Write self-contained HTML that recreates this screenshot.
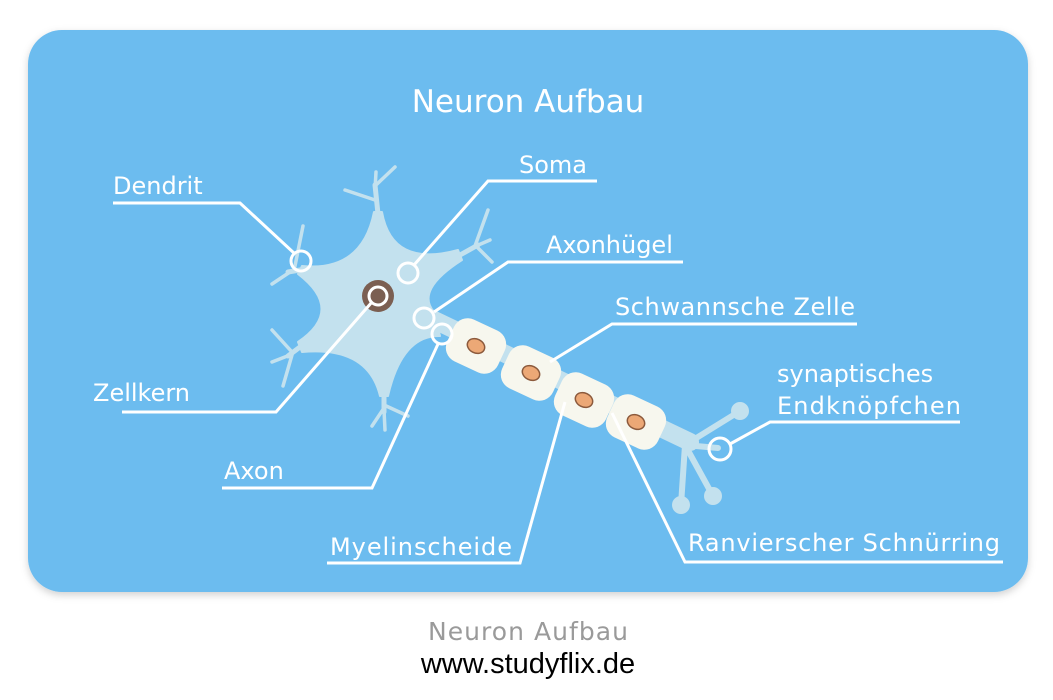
<!DOCTYPE html>
<html><head><meta charset="utf-8"><style>
html,body{margin:0;padding:0;background:#fff;width:1053px;height:700px;overflow:hidden}
svg{display:block}
text{font-family:"DejaVu Sans","Liberation Sans",sans-serif}
</style></head><body>
<svg width="1053" height="700" viewBox="0 0 1053 700">
<defs><filter id="sh" x="-5%" y="-5%" width="110%" height="115%"><feDropShadow dx="0" dy="3" stdDeviation="4" flood-color="#000" flood-opacity="0.18"/></filter></defs>
<rect x="28" y="30" width="1000" height="562" rx="34" fill="#6cbcef" filter="url(#sh)"/>
<text x="528" y="112" font-size="31" fill="#fff" text-anchor="middle">Neuron Aufbau</text>

<!-- neuron soma -->
<g fill="#c3e1ee" stroke="#c3e1ee" stroke-linecap="round" stroke-linejoin="round">
<path d="M374,212 L382,212 Q392,268 458,250 L462,260 Q415,290 434,312 L440,336 Q402,335 388,396 L380,396 Q368,346 302,352 L298,342 Q345,310 298,274 L302,266 Q362,272 374,212 Z" stroke-width="2"/>
<g fill="none">
<g stroke-width="5">
<line x1="378" y1="214" x2="375" y2="185"/>
<line x1="460" y1="255" x2="478" y2="245"/>
<line x1="300" y1="270" x2="288" y2="272"/>
<line x1="300" y1="347" x2="288" y2="356"/>
<line x1="384" y1="394" x2="384" y2="412"/>
</g>
<g stroke-width="3.5">
<line x1="375" y1="200" x2="345" y2="190"/><line x1="375" y1="190" x2="376" y2="172"/><line x1="376" y1="185" x2="395" y2="167"/>
<line x1="475" y1="246" x2="488" y2="210"/><line x1="476" y1="246" x2="492" y2="262"/><line x1="476" y1="246" x2="490" y2="240"/>
<line x1="294" y1="271" x2="303" y2="226"/><line x1="290" y1="272" x2="272" y2="284"/>
<line x1="292" y1="352" x2="272" y2="330"/><line x1="290" y1="355" x2="272" y2="362"/><line x1="292" y1="355" x2="283" y2="386"/>
<line x1="384" y1="408" x2="372" y2="426"/><line x1="384" y1="405" x2="408" y2="416"/><line x1="384" y1="410" x2="385" y2="430"/>
</g></g></g>
<!-- axon -->
<line x1="430" y1="318" x2="690" y2="442" stroke="#c3e1ee" stroke-width="18" stroke-linecap="round"/>
<!-- terminal -->
<g stroke="#c3e1ee" stroke-width="6" fill="#c3e1ee" stroke-linecap="round">
<line x1="685" y1="445" x2="740" y2="411"/><line x1="685" y1="445" x2="718" y2="448"/>
<line x1="685" y1="445" x2="713" y2="496"/><line x1="685" y1="445" x2="681" y2="505"/>
<circle cx="740" cy="411" r="6"/><circle cx="713" cy="496" r="6"/><circle cx="681" cy="505" r="6"/>
</g>
<!-- schwann cells -->
<g>
<g transform="translate(476,346) rotate(25)"><rect x="-28" y="-23" width="56" height="46" rx="15" fill="#f7f7ee"/><ellipse rx="9" ry="7" fill="#eca876" stroke="#8c5a3c" stroke-width="1.5"/></g>
<g transform="translate(531,373) rotate(25)"><rect x="-28" y="-23" width="56" height="46" rx="15" fill="#f7f7ee"/><ellipse rx="9" ry="7" fill="#eca876" stroke="#8c5a3c" stroke-width="1.5"/></g>
<g transform="translate(584,400) rotate(25)"><rect x="-28" y="-23" width="56" height="46" rx="15" fill="#f7f7ee"/><ellipse rx="9" ry="7" fill="#eca876" stroke="#8c5a3c" stroke-width="1.5"/></g>
<g transform="translate(636,422) rotate(25)"><rect x="-28" y="-23" width="56" height="46" rx="15" fill="#f7f7ee"/><ellipse rx="9" ry="7" fill="#eca876" stroke="#8c5a3c" stroke-width="1.5"/></g>
</g>
<!-- nucleus -->
<circle cx="378" cy="296" r="16" fill="#7b5f52"/>
<circle cx="378" cy="296" r="9" fill="#7b5f52" stroke="#fff" stroke-width="3"/>

<!-- leader lines -->
<g stroke="#fff" stroke-width="3" fill="none">
<polyline points="113,203 240,203 295,254"/><circle cx="301" cy="261" r="10"/>
<polyline points="597,181 488,181 414,265"/><circle cx="408" cy="273" r="10"/>
<polyline points="683,262 508,262 434,312"/><circle cx="424" cy="318" r="10"/>
<polyline points="857,324 612,324 550,362"/>
<polyline points="960,422 770,422 730,444"/><circle cx="720" cy="449" r="11"/>
<polyline points="122,412 276,412 372,302"/>
<polyline points="222,488 372,488 438,344"/><circle cx="442" cy="334" r="10"/>
<polyline points="327,563 520,563 565,402"/>
<polyline points="1003,562 685,562 612,413"/>
</g>

<g font-size="24" fill="#fff">
<text x="113" y="194">Dendrit</text>
<text x="519" y="173">Soma</text>
<text x="546" y="253">Axonhügel</text>
<text x="615" y="315" textLength="240">Schwannsche Zelle</text>
<text x="777" y="382">synaptisches</text>
<text x="777" y="414" textLength="184">Endknöpfchen</text>
<text x="93" y="401">Zellkern</text>
<text x="224" y="479">Axon</text>
<text x="330" y="555" textLength="182">Myelinscheide</text>
<text x="688" y="551" textLength="312">Ranvierscher Schnürring</text>
</g>
<text x="528" y="640" font-size="25" fill="#9a9a9a" text-anchor="middle" textLength="200">Neuron Aufbau</text>
<text x="528" y="673" font-size="29" fill="#000" text-anchor="middle" style="font-family:'Liberation Sans',sans-serif">www.studyflix.de</text>
</svg>
</body></html>
